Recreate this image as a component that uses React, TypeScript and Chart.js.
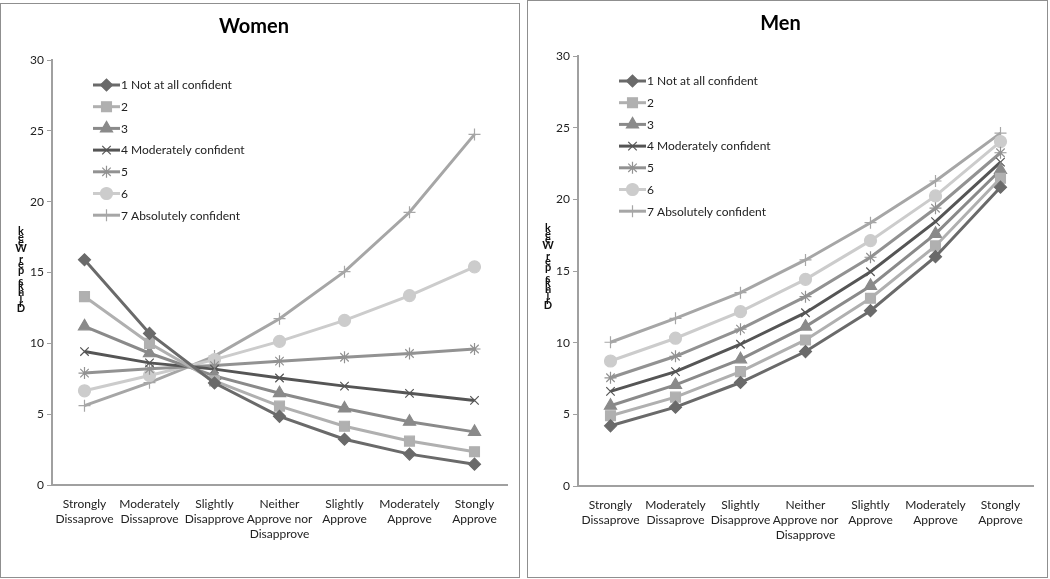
import React, { useEffect, useRef } from "react";
import { Chart, registerables } from "chart.js";
import { drawPoint } from "chart.js/helpers";

Chart.register(...registerables);

const categories: string[][] = [
  ["Strongly", "Dissaprove"],
  ["Moderately", "Dissaprove"],
  ["Slightly", "Disapprove"],
  ["Neither", "Approve nor", "Disapprove"],
  ["Slightly", "Approve"],
  ["Moderately", "Approve"],
  ["Stongly", "Approve"],
];

const seriesNames = [
  "1 Not at all confident",
  "2",
  "3",
  "4 Moderately confident",
  "5",
  "6",
  "7 Absolutely confident",
];
const seriesColors = ["#6a6a6a", "#b0b0b0", "#8a8a8a", "#555555", "#929292", "#cccccc", "#a6a6a6"];
const seriesMarkers = ["rectRot", "rect", "triangle", "crossRot", "star", "circle", "cross"];
const markerRadius = [6, 7, 7, 6, 6, 6, 6];

const yTicks = [0, 5, 10, 15, 20, 25, 30];
const yAxisTitle = "Drinks per Week";

// Women
const women1 = [15.9, 10.7, 7.2, 4.85, 3.23, 2.18, 1.47];
const women2 = [13.3, 10.0, 7.35, 5.57, 4.15, 3.1, 2.35];
const women3 = [11.2, 9.3, 7.7, 6.48, 5.4, 4.47, 3.75];
const women4 = [9.42, 8.62, 8.18, 7.55, 6.98, 6.47, 5.97];
const women5 = [7.9, 8.2, 8.43, 8.74, 9.02, 9.28, 9.6];
const women6 = [6.65, 7.73, 8.85, 10.14, 11.62, 13.37, 15.4];
const women7 = [5.6, 7.22, 9.1, 11.74, 15.06, 19.25, 24.75];

// Men
const men1 = [4.2, 5.5, 7.22, 9.38, 12.23, 16.0, 20.85];
const men2 = [4.9, 6.2, 7.98, 10.19, 13.1, 16.75, 21.47];
const men3 = [5.6, 7.05, 8.84, 11.12, 13.96, 17.59, 22.05];
const men4 = [6.6, 7.98, 9.89, 12.09, 14.95, 18.44, 22.6];
const men5 = [7.55, 9.05, 10.94, 13.21, 15.96, 19.38, 23.25];
const men6 = [8.72, 10.31, 12.16, 14.42, 17.12, 20.24, 24.03];
const men7 = [10.03, 11.7, 13.49, 15.77, 18.37, 21.28, 24.62];

const womenSeries = [women1, women2, women3, women4, women5, women6, women7];
const menSeries = [men1, men2, men3, men4, men5, men6, men7];

const FONT = "Lato, 'Liberation Sans', sans-serif";

const legendPlugin = {
  id: "insideLegend",
  afterDatasetsDraw(chart: any) {
    const { ctx, chartArea } = chart;
    const x0 = chartArea.left + 41;
    const y0 = chartArea.top + 25;
    const step = 21.7;
    ctx.save();
    chart.data.datasets.forEach((ds: any, i: number) => {
      const y = y0 + i * step;
      ctx.strokeStyle = ds.borderColor;
      ctx.lineWidth = 3;
      ctx.beginPath();
      ctx.moveTo(x0, y);
      ctx.lineTo(x0 + 27, y);
      ctx.stroke();
      ctx.fillStyle = ds.borderColor;
      ctx.strokeStyle = ds.borderColor;
      ctx.lineWidth = 1.2;
      drawPoint(ctx, { pointStyle: ds.pointStyle, radius: ds.pointRadius, rotation: 0, borderWidth: 1.2 }, x0 + 13.5, y);
      ctx.fillStyle = "#222";
      ctx.font = "12px " + FONT;
      ctx.textAlign = "left";
      ctx.textBaseline = "middle";
      ctx.fillText(seriesNames[i], x0 + 28, y + 0.5);
    });
    ctx.restore();
  },
};

const yTitlePlugin = {
  id: "stackedYTitle",
  afterDraw(chart: any) {
    const { ctx } = chart;
    const x = 20;
    const bottom = 308;
    const step = 5.5;
    ctx.save();
    ctx.fillStyle = "#111";
    ctx.font = "bold 11px " + FONT;
    ctx.textAlign = "center";
    ctx.textBaseline = "alphabetic";
    const chars = yAxisTitle.split("");
    chars.forEach((c, i) => {
      if (c === " ") return;
      ctx.fillText(c, x, bottom - i * step);
    });
    ctx.restore();
  },
};

type PanelProps = {
  title: string;
  series: number[][];
  left: number;
  top: number;
  width: number;
  height: number;
  yWidth: number;
  xHeight: number;
  padRight: number;
  titleBottom: number;
};

function Panel(p: PanelProps) {
  const ref = useRef<HTMLCanvasElement | null>(null);
  useEffect(() => {
    if (!ref.current) return;
    const chart = new Chart(ref.current, {
      type: "line",
      data: {
        labels: categories as any,
        datasets: p.series.map((vals, i) => ({
          label: seriesNames[i],
          data: vals,
          borderColor: seriesColors[i],
          backgroundColor: seriesColors[i],
          pointBackgroundColor: seriesColors[i],
          pointBorderColor: seriesColors[i],
          pointStyle: seriesMarkers[i] as any,
          pointRadius: markerRadius[i],
          pointBorderWidth: 1.2,
          borderWidth: 3,
          tension: 0,
          fill: false,
        })),
      },
      options: {
        responsive: false,
        animation: false,
        devicePixelRatio: 1,
        layout: { padding: { left: 0, right: p.padRight, top: 0, bottom: 0 } },
        plugins: {
          legend: { display: false },
          tooltip: { enabled: false },
          title: {
            display: true,
            text: p.title,
            color: "#000",
            font: { family: FONT, size: 20, weight: "bold", lineHeight: 1.2 },
            padding: { top: 11, bottom: p.titleBottom },
          },
        },
        scales: {
          x: {
            offset: true,
            grid: { display: false, drawTicks: false, offset: true },
            border: { display: true, color: "#a0a0a0", width: 2 },
            ticks: {
              color: "#222",
              font: { family: FONT, size: 12, lineHeight: 1.25 },
              maxRotation: 0,
              autoSkip: false,
              padding: 12,
            },
            afterFit: (s: any) => {
              s.height = p.xHeight;
            },
          },
          y: {
            min: 0,
            max: 30,
            afterBuildTicks: (s: any) => {
              s.ticks = yTicks.map((v) => ({ value: v }));
            },
            grid: { drawOnChartArea: false, drawTicks: true, tickLength: 5, color: "#a0a0a0", lineWidth: 1 },
            border: { display: true, color: "#a0a0a0", width: 2 },
            ticks: { color: "#222", font: { family: FONT, size: 12 }, padding: 3 },
            afterFit: (s: any) => {
              s.width = p.yWidth;
            },
          },
        },
      },
      plugins: [legendPlugin, yTitlePlugin],
    } as any);
    return () => chart.destroy();
  }, []);
  return (
    <div
      style={{
        position: "absolute",
        left: p.left,
        top: p.top,
        width: p.width,
        height: p.height,
        border: "1px solid #8f8f8f",
        background: "#fff",
      }}
    >
      <canvas ref={ref} width={p.width} height={p.height} style={{ display: "block", width: p.width, height: p.height }} />
    </div>
  );
}

export default function App() {
  useEffect(() => {
    document.body.style.margin = "0";
    document.body.style.background = "#fff";
  }, []);
  return (
    <div style={{ position: "relative", width: 1050, height: 579, background: "#fff", overflow: "hidden" }}>
      <Panel title="Women" series={womenSeries} left={0} top={3} width={518} height={573} yWidth={51} xHeight={92} padRight={12} titleBottom={21} />
      <Panel title="Men" series={menSeries} left={527} top={0} width={519} height={576} yWidth={50} xHeight={91} padRight={14} titleBottom={20} />
    </div>
  );
}
